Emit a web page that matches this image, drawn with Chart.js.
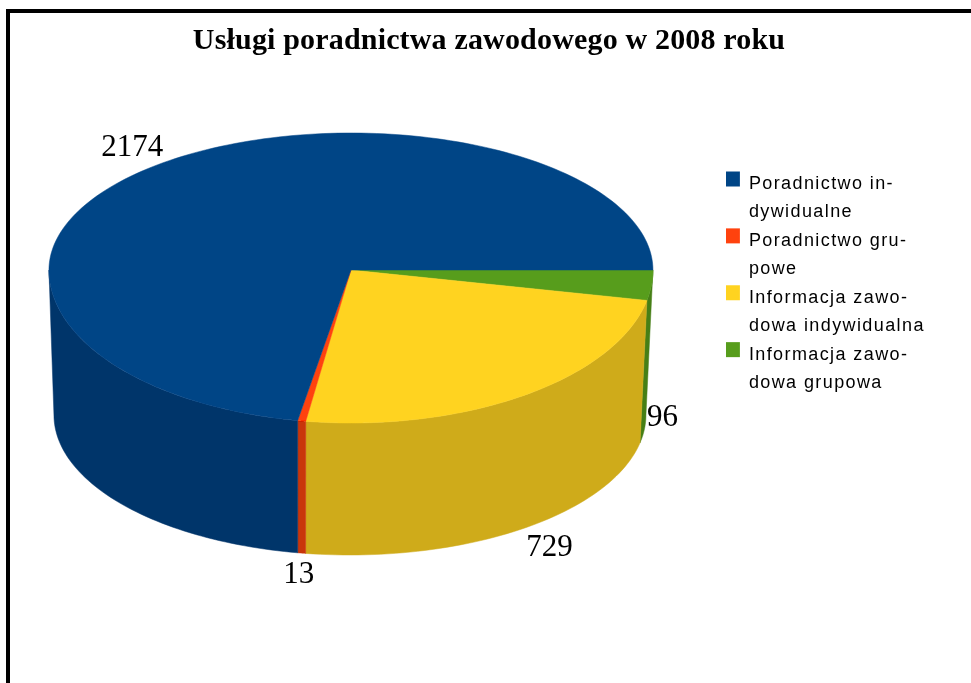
<!DOCTYPE html>
<html lang="pl">
<head>
<meta charset="utf-8">
<title>Usługi poradnictwa zawodowego w 2008 roku</title>
<script src="https://cdn.jsdelivr.net/npm/chart.js@4/dist/chart.umd.js"></script>
<style>
    html, body { margin: 0; padding: 0; background: #fff; overflow: hidden; }
    #wrap { position: relative; width: 971px; height: 683px; }
    #frame { position: absolute; left: 6px; top: 9px; right: 0; bottom: 0; border-left: 4px solid #000; border-top: 4px solid #000; pointer-events: none; }
    canvas { display: block; }
</style>
</head>
<body>
<div id="wrap">
    <canvas id="chart" width="971" height="683"></canvas>
    <div id="frame"></div>
</div>
<script>
// kolejnosc jak w legendzie
const kategorie = [
    ['Poradnictwo in-', 'dywidualne'],
    ['Poradnictwo gru-', 'powe'],
    ['Informacja zawo-', 'dowa indywidualna'],
    ['Informacja zawo-', 'dowa grupowa']
];
const wartosci = [2174, 13, 729, 96];
const koloryGora = ['#004586', '#ff420e', '#ffd320', '#579d1c'];
const koloryBok = ['#00356a', '#c9360b', '#cfab1a', '#467f16'];

// przesuniecia etykiet wartosci wzgledem krawedzi plastra
const przesuniecieEtykiet = [[-25, -17], [-3, 22], [30, 18], [18, -11]];

const GORA_TYL = 137 / 302, GORA_PRZOD = 153 / 302;
const DOL_RX = 296 / 302, DOL_RY = 140 / 302, GLEBOKOSC = 145;

function punktGora(el, t) {
    const s = Math.sin(t);
    return [el.x + el.outerRadius * Math.cos(t), el.y + el.outerRadius * (s < 0 ? GORA_TYL : GORA_PRZOD) * s];
}

function punktDol(el, t) {
    return [el.x - 1 + el.outerRadius * DOL_RX * Math.cos(t), el.y + GLEBOKOSC + el.outerRadius * DOL_RY * Math.sin(t)];
}

// plaster 3D liczony z katow elementow Chart.js
const pie3d = {
    id: 'pie3d',
    beforeDraw(chart) {
        const odstepy = (box, px, dx, dy, tekstDy) => {
            if (box._odstep) return;
            box._odstep = true;
            const draw = box.draw;
            box.draw = function (area) {
                const ctx = chart.ctx;
                const fillText = ctx.fillText;
                ctx.save();
                ctx.letterSpacing = px;
                ctx.translate(dx, dy);
                ctx.fillText = (t, x, y, m) => fillText.call(ctx, t, x, y + tekstDy, m);
                box.right = chart.width;   // legenda przycina tekst do swojego pudelka
                draw.call(box, area);
                delete ctx.fillText;
                ctx.restore();
            };
        };
        odstepy(chart.legend, '1.4px', 24, 170, 5);
        odstepy(chart.titleBlock, '0.17px', 3.5, 2, 0);
    },
    beforeDatasetDraw(chart, args) {
        const ctx = chart.ctx;
        const elementy = chart.getDatasetMeta(args.index).data;
        const n = elementy.length;

        // boki
        elementy.forEach((el, i) => {
            const a = el.startAngle, b = Math.min(el.endAngle, Math.PI);
            if (a >= Math.PI) return;
            const kolor = koloryBok[n - 1 - i];
            const krok = (b - a) / 60;
            ctx.beginPath();
            for (let k = 0; k <= 60; k++) {
                const p = punktGora(el, a + krok * k);
                k ? ctx.lineTo(p[0], p[1]) : ctx.moveTo(p[0], p[1]);
            }
            for (let k = 60; k >= 0; k--) {
                const p = punktDol(el, a + krok * k);
                ctx.lineTo(p[0], p[1]);
            }
            ctx.closePath();
            ctx.fillStyle = kolor;
            ctx.strokeStyle = kolor;
            ctx.lineWidth = 0.5;
            ctx.fill();
            ctx.stroke();
        });

        // gorna powierzchnia
        elementy.forEach((el, i) => {
            const kolor = koloryGora[n - 1 - i];
            const krok = (el.endAngle - el.startAngle) / 180;
            ctx.beginPath();
            ctx.moveTo(el.x, el.y);
            for (let k = 0; k <= 180; k++) {
                const p = punktGora(el, el.startAngle + krok * k);
                ctx.lineTo(p[0], p[1]);
            }
            ctx.closePath();
            ctx.fillStyle = kolor;
            ctx.strokeStyle = kolor;
            ctx.lineWidth = 0.5;
            ctx.fill();
            ctx.stroke();
        });

        // etykiety wartosci
        ctx.save();
        ctx.font = '31px "Liberation Serif"';
        ctx.fillStyle = '#000';
        ctx.textAlign = 'center';
        ctx.textBaseline = 'middle';
        elementy.forEach((el, i) => {
            const j = n - 1 - i;
            const t = (el.startAngle + el.endAngle) / 2;
            const p = Math.sin(t) > 0 ? punktDol(el, t) : punktGora(el, t);
            ctx.fillText(String(wartosci[j]), p[0] + przesuniecieEtykiet[j][0], p[1] + przesuniecieEtykiet[j][1]);
        });
        ctx.restore();
        return false;
    }
};

new Chart(document.getElementById('chart'), {
    type: 'pie',
    data: {
        labels: kategorie.slice().reverse(),
        datasets: [{
            data: wartosci.slice().reverse(),
            backgroundColor: koloryGora.slice().reverse(),
            borderWidth: 0,
            radius: 302
        }]
    },
    options: {
        responsive: false,
        animation: false,
        rotation: 90,
        layout: { padding: { bottom: 203, right: 84 } },
        plugins: {
            title: {
                display: true,
                text: 'Usługi poradnictwa zawodowego w 2008 roku',
                color: '#000',
                font: { family: '"Liberation Serif"', size: 30, weight: 'bold' },
                padding: { top: 21, bottom: 3 }
            },
            legend: {
                position: 'right',
                align: 'start',
                reverse: true,
                labels: {
                    color: '#000',
                    boxWidth: 14,
                    boxHeight: 15,
                    padding: 0,
                    font: { family: '"Liberation Sans"', size: 18, lineHeight: 1.58 }
                }
            },
            tooltip: { enabled: false }
        }
    },
    plugins: [pie3d]
});
</script>
</body>
</html>
